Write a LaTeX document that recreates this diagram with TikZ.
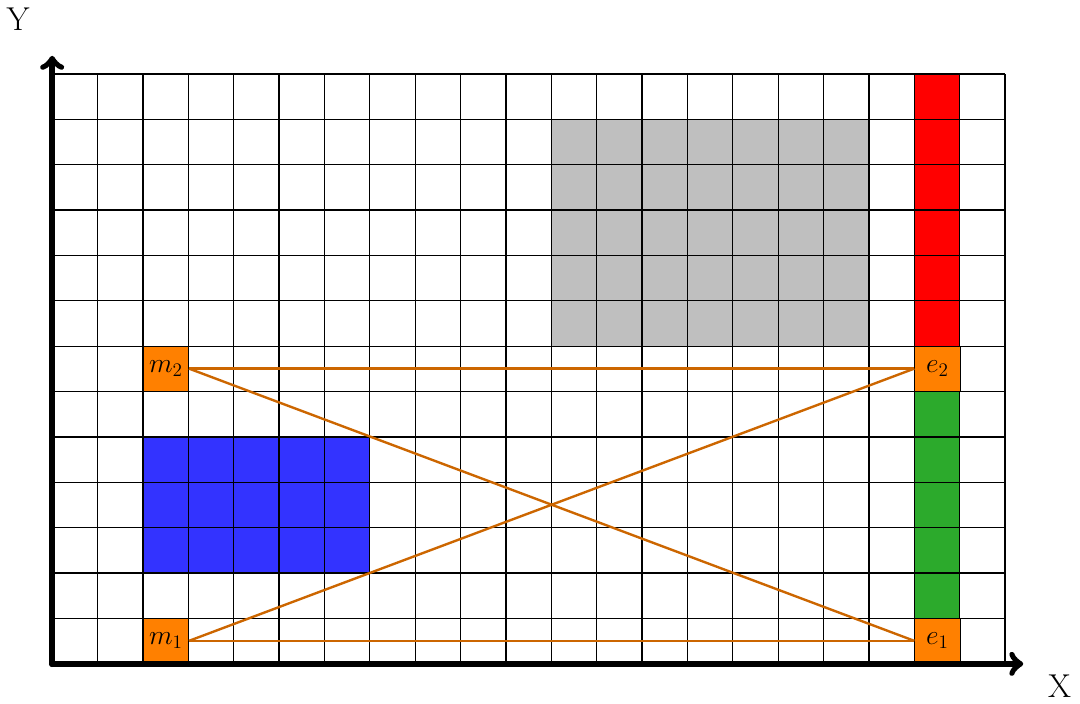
\documentclass[tikz,border=0pt]{standalone}
\usepackage{amsmath}
\usetikzlibrary{arrows,positioning}
\definecolor{cellorange}{RGB}{255,128,0}
\definecolor{pathorange}{RGB}{204,102,0}
\definecolor{cellblue}{RGB}{51,51,255}
\definecolor{cellgreen}{RGB}{44,170,44}

\begin{document}
\begin{tikzpicture}[
    x=1cm,y=1cm,
  cell/.style={draw,fill=cellorange,minimum size=1cm,inner sep=0pt,font=\LARGE,anchor=south west},
  link/.style={draw=pathorange,line width=1.5pt},
  axis/.style={line width=4pt,-to,line cap=round,line join=round},
]
  \useasboundingbox (-1.15,-0.88) rectangle (22.65,14.63);

  \fill[cellblue] (2,2) rectangle (7,5);
  \fill[gray!50] (11,7) rectangle (18,12);
  \fill[red] (19,7) rectangle (20,13);
  \fill[cellgreen] (19,1) rectangle (20,6);
  \draw[line width=0.8pt] (0,0) grid (21,13);

  \node[cell] (m1) at (2,0) {$m_1$};
  \node[cell] (m2) at (2,6) {$m_2$};
  \node[cell] (e1) at (19,0) {$e_1$};
  \node[cell] (e2) at (19,6) {$e_2$};

  \draw[link] (m1.east) -- (e1.west);
  \draw[link] (m2.east) -- (e2.west);
  \draw[link] (m1.east) -- (e2.west);
  \draw[link] (m2.east) -- (e1.west);

  \coordinate (o) at (0,0);
  \coordinate (xend) at (21.4,0);
  \coordinate (yend) at (0,13.4);
  \draw[axis] (o) -- (xend);
  \draw[axis] (o) -- (yend);
  \node[font=\huge] (xlab) at (22.2,-0.5) {X};
  \node[font=\huge] (ylab) at (-0.75,14.2) {Y};
\end{tikzpicture}
\end{document}
